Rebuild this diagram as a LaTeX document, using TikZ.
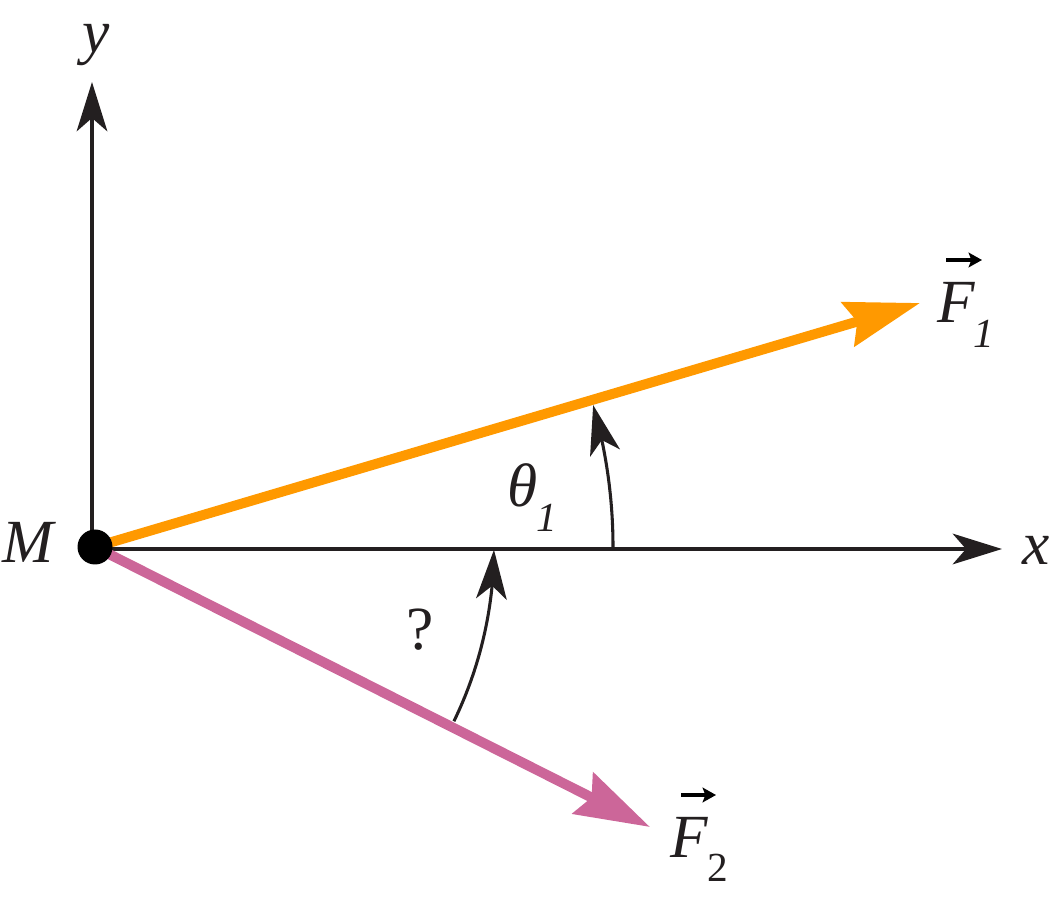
\documentclass[tikz,border=0pt]{standalone}
\usepackage{fontspec}
\setmainfont{Liberation Serif}
\usetikzlibrary{arrows.meta,bending}
\definecolor{ink}{HTML}{231F20}
\definecolor{forange}{HTML}{FF9900}
\definecolor{fpink}{HTML}{CC6699}
\tikzset{
  axis/.style={draw=ink, line width=2.6pt, -{Stealth[length=37pt,width=23pt,inset=10pt]}},
  force/.style={line width=7.5pt, -{Stealth[length=56pt,width=34pt,inset=7pt]}},
  anglearc/.style={draw=ink, line width=2.3pt, -{Stealth[length=37pt,width=23pt,inset=10pt,flex]}},
  lbl/.style={inner sep=0pt, anchor=base, text=ink, font=\fontsize{46}{50}\selectfont\itshape},
  sub/.style={inner sep=0pt, anchor=base, text=ink, font=\fontsize{31}{34}\selectfont\itshape},
  subup/.style={inner sep=0pt, anchor=base, text=ink, font=\fontsize{31}{34}\selectfont},
  vecarrow/.style={draw=black, line width=3pt, -{Stealth[length=10pt,width=11pt,inset=2pt]}}
}
\begin{document}
\begin{tikzpicture}[x=0.75pt,y=0.75pt]
\useasboundingbox (0,0) rectangle (1054,904);
\coordinate (M) at (95,357);
\coordinate (ybot) at (92,357);
\coordinate (ytip) at (92,822);
\coordinate (xbot) at (95,355);
\coordinate (xtip) at (1002,355);
\coordinate (F1tip) at (920,601);
\coordinate (F2tip) at (650,77);
% axes
\draw[axis] (ybot) -- (ytip);
\draw[axis] (xbot) -- (xtip);
% forces
\draw[force, draw=forange, fill=forange] (M) -- (F1tip);
\draw[force, draw=fpink, fill=fpink] (M) -- (F2tip);
% dot
\fill[black] (M) circle (17.5);
% angle arcs
\draw[anglearc] (M) ++(0:518) arc[start angle=0, end angle=15.9, radius=518];
\draw[anglearc] (M) ++(-25.9:399) arc[start angle=-25.9, end angle=-0.4, radius=399];
% labels
\node[lbl] (ylab) at (96,851) {y};
\node[lbl] (xlab) at (1036,339) {x};
\node[lbl] (Mlab) at (28,341) {M};
\node[lbl] (th) at (523,397) {θ};
\node[sub] (th1) at (547,372) {1};
\node[lbl] (q) at (420,254) {\upshape ?};
\node[lbl] (F1) at (956,581) {F};
\node[sub] (F1s) at (984,556) {1};
\coordinate (v1a) at (946,644);
\coordinate (v1b) at (982,644);
\draw[vecarrow] (v1a) -- (v1b);
\node[lbl] (F2) at (689,46) {F};
\node[subup] (F2s) at (718,22) {2};
\coordinate (v2a) at (681,109);
\coordinate (v2b) at (716,109);
\draw[vecarrow] (v2a) -- (v2b);
\end{tikzpicture}
\end{document}
